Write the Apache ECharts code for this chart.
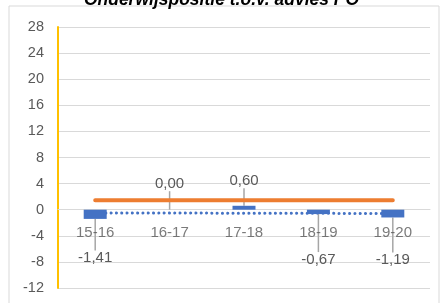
<!DOCTYPE html>
<html>
<head>
<meta charset="utf-8">
<script src="https://cdn.jsdelivr.net/npm/echarts@6/dist/echarts.min.js"></script>
<style>html,body{margin:0;padding:0;background:#fff}#c{width:443px;height:303px}</style>
</head>
<body>
<div id="c"></div>
<script>
const categories = ['15-16', '16-17', '17-18', '18-19', '19-20'];
const positionValues = [-1.41, 0.00, 0.60, -0.67, -1.19];
const referenceLine = [1.45, 1.45, 1.45, 1.45, 1.45];
const trendLine = [-0.49, null, null, null, -0.58];
const yTicks = { min: -12, max: 28, interval: 4 };
const axisCrossing = 0;
const titleText = 'Onderwijspositie t.o.v. advies PO';

const FONT = 'Liberation Sans';
const labelDy = [19.5, -7.5, -6.6, 26, 23];

const chart = echarts.init(document.getElementById('c'), null, { renderer: 'canvas' });
chart.setOption({
  animation: false,
  textStyle: { fontFamily: FONT },
  title: {
    text: titleText,
    left: 'center',
    top: -14,
    textStyle: { fontFamily: FONT, fontSize: 17.5, fontWeight: 'bold', fontStyle: 'italic', color: '#000' }
  },
  graphic: [{
    type: 'rect', shape: { x: 9, y: 6, width: 430, height: 310 },
    style: { fill: 'none', stroke: '#d9d9d9', lineWidth: 1 }, silent: true, z: -10
  }],
  grid: { left: 58, right: 13, top: 27, bottom: 15, containLabel: false, outerBoundsMode: 'none' },
  xAxis: {
    type: 'category',
    data: categories,
    axisLine: { show: true, onZero: true, lineStyle: { color: '#d9d9d9', width: 1 } },
    axisTick: { show: false },
    axisLabel: { show: false },
    z: 1
  },
  yAxis: {
    type: 'value',
    min: yTicks.min, max: yTicks.max, interval: yTicks.interval,
    axisLine: { show: true, lineStyle: { color: '#FFC000', width: 2 } },
    axisTick: { show: false },
    axisLabel: { color: '#595959', fontSize: 14.5, margin: 14, fontFamily: FONT },
    splitLine: { lineStyle: { color: '#d9d9d9', width: 1 } }
  },
  series: [
    {
      name: 'trend',
      type: 'line',
      data: trendLine,
      connectNulls: true,
      symbol: 'none',
      z: 2,
      lineStyle: { color: '#4472C4', width: 3, type: [0.1, 5.2], cap: 'round' }
    },
    {
      name: 'positie',
      type: 'bar',
      data: positionValues.map(v => ({
        value: v,
        label: { position: v < 0 ? 'bottom' : 'top', padding: v < 0 ? [7, 0, 0, 0] : [0, 0, 6, 0] }
      })),
      barWidth: 23,
      z: 3,
      itemStyle: { color: '#4472C4' },
      label: {
        show: true,
        color: '#595959',
        fontSize: 15,
        fontFamily: FONT,
        formatter: p => p.value.toFixed(2).replace('.', ',')
      },
      labelLine: { show: true, lineStyle: { color: '#a6a6a6', width: 1.5 } },
      labelLayout: p => ({ dy: labelDy[p.dataIndex] })
    },
    {
      name: 'advies',
      type: 'line',
      data: referenceLine,
      symbol: 'none',
      z: 4,
      lineStyle: { color: '#ED7D31', width: 4, cap: 'round' }
    },
    {
      name: 'categorieLabels',
      type: 'scatter',
      data: categories.map(c => [c, axisCrossing]),
      symbolSize: 0,
      silent: true,
      z: 5,
      label: {
        show: true,
        position: 'bottom',
        distance: 16,
        color: '#595959',
        fontSize: 15,
        fontFamily: FONT,
        formatter: p => p.value[0]
      }
    }
  ]
});
</script>
</body>
</html>
